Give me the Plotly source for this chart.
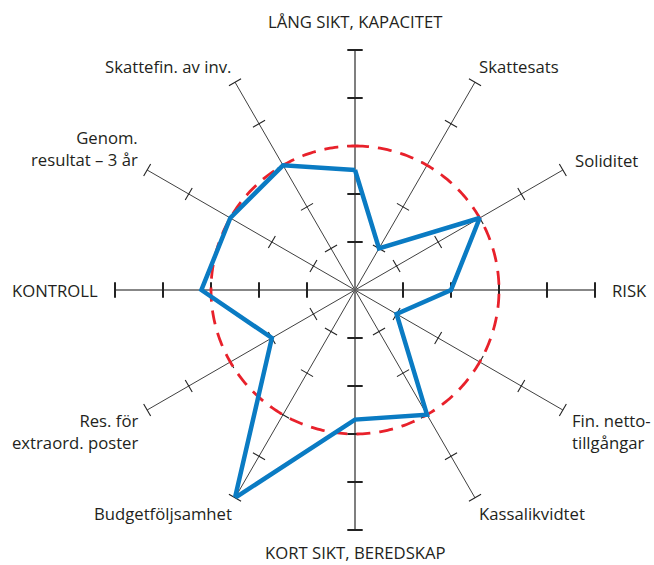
import math
import numpy as np
import plotly.graph_objects as go

categories = [
    "LÅNG SIKT, KAPACITET",
    "Skattesats",
    "Soliditet",
    "RISK",
    "Fin. netto-<br>tillgångar",
    "Kassalikvidtet",
    "KORT SIKT, BEREDSKAP",
    "Budgetföljsamhet",
    "Res. för<br>extraord. poster",
    "KONTROLL",
    "Genom.<br>resultat – 3 år",
    "Skattefin. av inv.",
]
scores = [2.5, 1.0, 3.0, 2.0, 1.0, 3.0, 2.7, 5.0, 2.0, 3.2, 3.0, 3.0]
reference_level = 3
tick_levels = [1, 2, 3, 4, 5]
axis_max = 5
main_axes = ["LÅNG SIKT, KAPACITET", "RISK", "KORT SIKT, BEREDSKAP", "KONTROLL"]

n = len(categories)
theta = [i * 360 / n for i in range(n)]

W, H = 654, 565
FONT = dict(family="Open Sans", size=16.7, color="#231f20")

fig = go.Figure()

styles = {
    True: dict(color="#5f5f5f", width=1.6, tick_color="#222", tick_width=2.0, tick_size=11),
    False: dict(color="#2a2a2a", width=0.9, tick_color="#222", tick_width=1.1, tick_size=10),
}

for is_main in (False, True):
    st = styles[is_main]
    r, t = [], []
    tr, tt, ta = [], [], []
    for i, c in enumerate(categories):
        if (c in main_axes) != is_main:
            continue
        r += [0, axis_max, None]
        t += [theta[i], theta[i], None]
        for lv in tick_levels:
            tr.append(lv)
            tt.append(theta[i])
            ta.append(theta[i] - 90)
    fig.add_trace(go.Scatterpolar(
        r=r, theta=t, mode="lines", connectgaps=False,
        line=dict(color=st["color"], width=st["width"]),
        hoverinfo="skip", showlegend=False))
    fig.add_trace(go.Scatterpolar(
        r=tr, theta=tt, mode="markers",
        marker=dict(symbol="line-ns", size=st["tick_size"], angle=ta,
                    line=dict(color=st["tick_color"], width=st["tick_width"])),
        hoverinfo="skip", showlegend=False))

circle_theta = np.linspace(0, 360, 361)
fig.add_trace(go.Scatterpolar(
    r=[reference_level] * len(circle_theta), theta=circle_theta, mode="lines",
    line=dict(color="#e8212b", width=2.8, dash="14px,9px"),
    hoverinfo="skip", showlegend=False))

fig.add_trace(go.Scatterpolar(
    r=scores + [scores[0]], theta=theta + [theta[0]], mode="lines",
    line=dict(color="#0a7bc3", width=4.5),
    showlegend=False))

# polar placement (pixels in the 654x565 page)
cx_px, cy_px, R_px = 355, 290, 240
dom_x = [(cx_px - R_px) / W, (cx_px + R_px) / W]
dom_y = [(H - cy_px - R_px) / H, (H - cy_px + R_px) / H]

# category labels at the end of each spoke
annotations = []
for i, label in enumerate(categories):
    a = math.radians(90 - theta[i])
    ca, sa = math.cos(a), math.sin(a)
    if abs(ca) < 1e-6:
        ca = 0.0
    multiline = "<br>" in label
    yshift = 0
    if ca == 0.0:
        dx, xanchor = 0, "center"
        dy = 28 * sa if sa > 0 else 22 * sa
    elif multiline:
        dx, dy = 12 * ca, 12 * sa
        xanchor = "left" if ca > 0 else "right"
        yshift = 15 if sa > 0 else -15
    else:
        dx, dy = 18 * abs(ca) * ca, 18 * sa
        xanchor = "left" if ca > 0 else "right"
    x_px = cx_px + R_px * ca + dx
    y_px = cy_px - R_px * sa - dy
    xshift = {"left": -3, "right": 3, "center": 0}[xanchor]
    annotations.append(dict(
        text=label, xref="paper", yref="paper",
        x=x_px / W, y=1 - y_px / H,
        xanchor=xanchor, yanchor="middle", align=xanchor,
        xshift=xshift, yshift=yshift, showarrow=False, font=FONT))

fig.update_layout(
    width=W, height=H,
    margin=dict(l=0, r=0, t=0, b=0),
    paper_bgcolor="white",
    font=FONT,
    polar=dict(
        domain=dict(x=dom_x, y=dom_y),
        bgcolor="white",
        radialaxis=dict(range=[0, axis_max], visible=False),
        angularaxis=dict(
            tickmode="array", tickvals=theta,
            rotation=90, direction="clockwise",
            showgrid=False, showline=False, showticklabels=False, ticks="",
        ),
    ),
    annotations=annotations,
)

fig.write_html(
    "out.html",
    config={"displayModeBar": False},
    post_script="document.body.style.margin='0';document.body.style.padding='0';",
)
